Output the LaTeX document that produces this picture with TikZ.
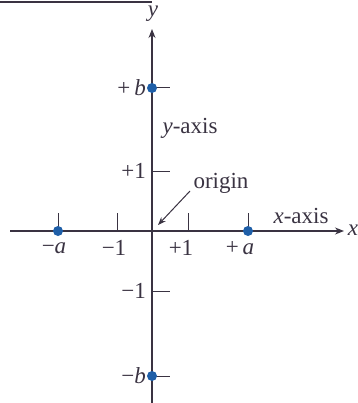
\documentclass[tikz,border=0pt]{standalone}
\usepackage{fontspec}
\setmainfont{Liberation Serif}
\usetikzlibrary{arrows.meta}
\definecolor{axcol}{HTML}{3A3342}
\definecolor{dotcol}{HTML}{1F5FA8}
\tikzset{
  axis/.style={draw=axcol, line width=1.1pt},
  tick/.style={draw=axcol, line width=1pt},
  dot/.style={circle, fill=dotcol, inner sep=0pt, minimum size=10pt},
  lab/.style={font=\fontsize{23}{25}\selectfont, text=axcol, inner sep=1pt},
}
\begin{document}
\begin{tikzpicture}[x=1pt,y=-1pt]
\useasboundingbox (0,0) rectangle (357,403);
% top rule
\coordinate (r0) at (0,2);
\coordinate (r1) at (152,2);
\draw[axcol, line width=1.4pt] (r0) -- (r1);
% axes
\coordinate (O) at (152,231);
\coordinate (xl) at (10,231);
\coordinate (xr) at (344,231);
\coordinate (yb) at (152,403);
\coordinate (yt) at (152,29);
\draw[axis, -{Stealth[length=9pt,width=7pt]}] (xl) -- (xr);
\draw[axis, -{Stealth[length=9pt,width=7pt]}] (yb) -- (yt);
\node[lab, font=\fontsize{23}{25}\selectfont\itshape] (xlab) at (353,230) {x};
\node[lab, font=\fontsize{23}{25}\selectfont\itshape] (ylab) at (153,14) {y};
% x ticks
\foreach \n/\x in {ma/58, m1/117, p1/188, pa/248}{
  \coordinate (xt\n) at (\x,231);
  \coordinate (xu\n) at (\x,213);
  \draw[tick] (xt\n) -- (xu\n);
}
% y ticks
\foreach \n/\y in {pb/88, p1/171, m1/291, mb/376}{
  \coordinate (yt\n) at (152,\y);
  \coordinate (yr\n) at (170,\y);
  \draw[tick] (yt\n) -- (yr\n);
}
% dots
\node[dot] (da) at (58,231) {};
\node[dot] (dpa) at (248,231) {};
\node[dot] (db) at (152,88) {};
\node[dot] (dmb) at (152,376) {};
% x labels
\node[lab] (lma) at (54,248) {−\textit{a}};
\node[lab] (lm1) at (114,248) {−1};
\node[lab] (lp1) at (181,248) {+1};
\node[lab] (lpa) at (240,248) {+\,\textit{a}};
% y labels
\node[lab, anchor=east] (lpb) at (147,88) {+\,\textit{b}};
\node[lab, anchor=east] (lyp1) at (147,171) {+1};
\node[lab, anchor=east] (lym1) at (147,291) {−1};
\node[lab, anchor=east] (lmb) at (147,376) {−\textit{b}};
% axis names
\node[lab] (yname) at (190,128) {\textit{y}-axis};
\node[lab] (xname) at (301,216) {\textit{x}-axis};
\node[lab] (orig) at (221,183) {origin};
\coordinate (oa) at (190,191);
\coordinate (ob) at (158,225);
\draw[axis, line width=1pt, -{Stealth[length=8pt,width=6pt]}] (oa) -- (ob);
\end{tikzpicture}
\end{document}
